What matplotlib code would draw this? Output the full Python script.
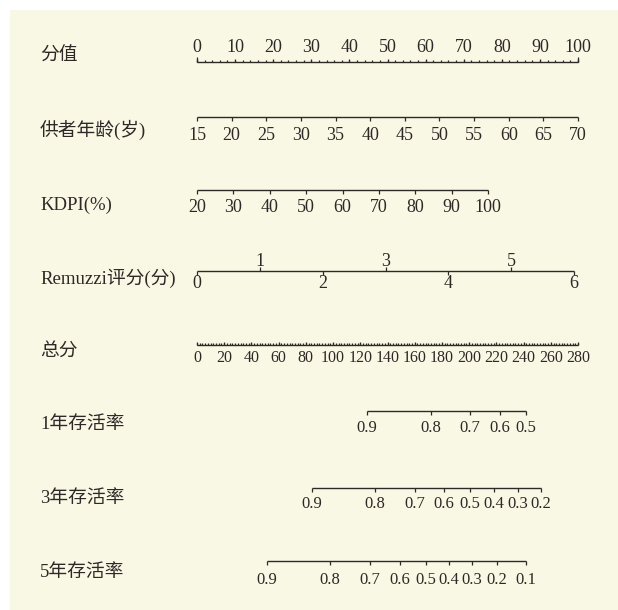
import numpy as np
import matplotlib.pyplot as plt
from matplotlib.patches import Rectangle

plt.rcParams['font.family'] = ['Liberation Serif', 'Noto Sans CJK SC']

INK = '#2e2826'
BG = '#f9f8e5'

# Row labels
row_labels = ['分值', '供者年龄(岁)', 'KDPI(%)', 'Remuzzi评分(分)', '总分',
              '1年存活率', '3年存活率', '5年存活率']

# Points scale
points_major = np.arange(0, 101, 10)
points_minor = np.arange(0, 101, 2)

# Donor age -> points
age_ticks = np.arange(15, 71, 5)
age_range = (15, 70)
age_points = (0, 100)

# KDPI -> points
kdpi_ticks = np.arange(20, 101, 10)
kdpi_range = (20, 100)
kdpi_points = (0, 76.4)

# Remuzzi score -> points
remuzzi_ticks = np.arange(0, 7)
remuzzi_range = (0, 6)
remuzzi_points = (0, 99)

# Total points
total_major = np.arange(0, 281, 20)
total_minor = np.arange(0, 281, 2)
total_max = 280

# Survival probability labels and their total-point positions
surv_1y = [0.9, 0.8, 0.7, 0.6, 0.5]
surv_1y_tp = [124.9, 171.8, 200.6, 222.7, 241.6]
surv_3y = [0.9, 0.8, 0.7, 0.6, 0.5, 0.4, 0.3, 0.2]
surv_3y_tp = [84.5, 131.0, 160.2, 181.5, 200.6, 218.3, 235.7, 252.8]
surv_5y = [0.9, 0.8, 0.7, 0.6, 0.5, 0.4, 0.3, 0.2, 0.1]
surv_5y_tp = [51.2, 97.7, 127.1, 149.2, 168.1, 185.4, 201.9, 220.3, 241.8]

# layout (pixel rows)
row_y = [62, 117, 190, 271, 345, 411, 488, 561]
label_y = [56, 130, 205, 278, 352, 424, 498, 572]


def to_points(v, vrange, prange):
    v = np.asarray(v, dtype=float)
    return prange[0] + (v - vrange[0]) / (vrange[1] - vrange[0]) * (prange[1] - prange[0])


def tp_to_points(tp):
    return np.asarray(tp, dtype=float) * 100 / total_max


fig = plt.figure(figsize=(6.18, 6.10), dpi=100)
fig.add_artist(Rectangle((10 / 618, 0), 1, 600 / 610, transform=fig.transFigure,
                         facecolor=BG, edgecolor='none', zorder=0))
ax = fig.add_axes([0, 0, 1, 1])
ax.set_xlim(-197 / 3.81, (618 - 197) / 3.81)
ax.set_ylim(610, 0)
ax.axis('off')
ax.patch.set_alpha(0)


def draw_line(y, xs):
    ax.plot([min(xs), max(xs)], [y, y], color=INK, lw=1.0, solid_capstyle='butt')


def draw_ticks(xs, y, length, up):
    y1 = y - length if up else y + length
    ax.vlines(xs, y, y1, color=INK, lw=0.9)


def tick_labels(xs, labels, y, size):
    for x, s in zip(xs, labels):
        ax.text(x, y, s, ha='center', va='baseline', fontsize=size, color=INK)


# 分值
y = row_y[0]
draw_line(y, points_major)
draw_ticks(points_minor, y, 2.5, True)
draw_ticks(points_major, y, 3.5, True)
draw_ticks([0, 100], y, 5, True)
tick_labels(points_major, [str(v) for v in points_major], y - 9.5, 13)

# 供者年龄
y = row_y[1]
xs = to_points(age_ticks, age_range, age_points)
draw_line(y, xs)
draw_ticks(xs, y, 4, False)
tick_labels(xs, [str(v) for v in age_ticks], 139.5, 13)

# KDPI
y = row_y[2]
xs = to_points(kdpi_ticks, kdpi_range, kdpi_points)
draw_line(y, xs)
draw_ticks(xs, y, 4, False)
tick_labels(xs, [str(v) for v in kdpi_ticks], 212.5, 13)

# Remuzzi
y = row_y[3]
xs = to_points(remuzzi_ticks, remuzzi_range, remuzzi_points)
draw_line(y, xs)
odd = remuzzi_ticks % 2 == 1
draw_ticks(xs[odd], y, 4, True)
draw_ticks(xs[~odd], y, 4, False)
tick_labels(xs[odd], [str(v) for v in remuzzi_ticks[odd]], 266.5, 13)
tick_labels(xs[~odd], [str(v) for v in remuzzi_ticks[~odd]], 288.5, 13)

# 总分
y = row_y[4]
draw_line(y, tp_to_points([0, total_max]))
draw_ticks(tp_to_points(total_minor), y, 2.5, True)
draw_ticks(tp_to_points(total_major), y, 3, True)
tick_labels(tp_to_points(total_major), [str(v) for v in total_major], 362.5, 11.5)

# survival scales
for y, probs, tps, base in [(row_y[5], surv_1y, surv_1y_tp, 432),
                            (row_y[6], surv_3y, surv_3y_tp, 508.5),
                            (row_y[7], surv_5y, surv_5y_tp, 583.5)]:
    xs = tp_to_points(tps)
    draw_line(y, xs)
    draw_ticks(xs, y, 4, False)
    tick_labels(xs, [f'{p:.1f}' for p in probs], base, 12)

for lab, ly in zip(row_labels, label_y):
    ax.text(-157 / 3.81, ly, lab, ha='left', va='center', fontsize=13.5, color=INK)

fig.savefig('out.png', dpi=100)
